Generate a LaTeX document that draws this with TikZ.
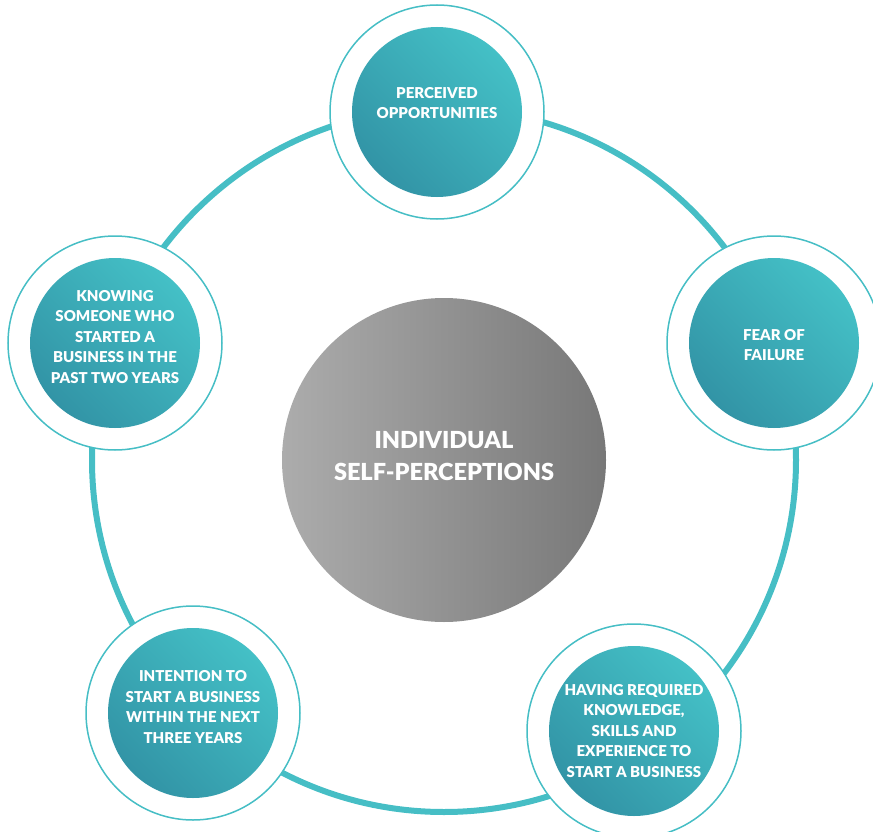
\documentclass[tikz,border=0pt]{standalone}
\usepackage{fontspec}
\setmainfont{Lato}[BoldFont={Lato Black}]
\definecolor{ringteal}{RGB}{70,190,197}
\definecolor{teallight}{RGB}{68,192,198}
\definecolor{tealdark}{RGB}{50,148,166}
\definecolor{greylight}{RGB}{172,172,172}
\definecolor{greydark}{RGB}{120,120,120}
\begin{document}
\begin{tikzpicture}[x=1pt,y=1pt,
    outer/.style={circle,draw=ringteal,line width=1.5pt,fill=white,minimum size=214pt,inner sep=0pt},
    inner/.style={circle,top color=teallight,bottom color=tealdark,shading angle=-45,minimum size=170pt,inner sep=0pt},
    txt/.style={text=white,align=center,font=\bfseries\fontsize{15}{20.5}\selectfont}]
    \useasboundingbox (0,0) rectangle (873,-832);

    % Ring
    \coordinate (c) at (444,-460);
    \draw[ringteal,line width=6pt] (c) circle (352);

    % Centre
    \node[circle,left color=greylight,right color=greydark,minimum size=324pt,inner sep=0pt] (self) at (c) {};
    \node[text=white,align=center,font=\bfseries\fontsize{23.5}{32}\selectfont] at ([yshift=4]self.center) {INDIVIDUAL\\SELF-PERCEPTIONS};

    % Outer circles
    \node[outer] (oppo) at (437,-112) {};
    \node[outer] (fear) at (774,-343) {};
    \node[outer] (know) at (115,-343) {};
    \node[outer] (intent) at (193,-713) {};
    \node[outer] (skill) at (634,-731) {};

    \foreach \n in {oppo,fear,know,intent,skill}
        \node[inner] (\n-in) at (\n) {};

    % Labels
    \node[txt] at ([yshift=9]oppo-in.center) {PERCEIVED\\OPPORTUNITIES};
    \node[txt] at ([yshift=-2]fear-in.center) {FEAR OF\\FAILURE};
    \node[txt] at ([yshift=6]know-in.center) {KNOWING\\SOMEONE WHO\\STARTED A\\BUSINESS IN THE\\PAST TWO YEARS};
    \node[txt] at ([yshift=6]intent-in.center) {INTENTION TO\\START A BUSINESS\\WITHIN THE NEXT\\THREE YEARS};
    \node[txt] at (skill-in.center) {HAVING REQUIRED\\KNOWLEDGE,\\SKILLS AND\\EXPERIENCE TO\\START A BUSINESS};
\end{tikzpicture}
\end{document}
